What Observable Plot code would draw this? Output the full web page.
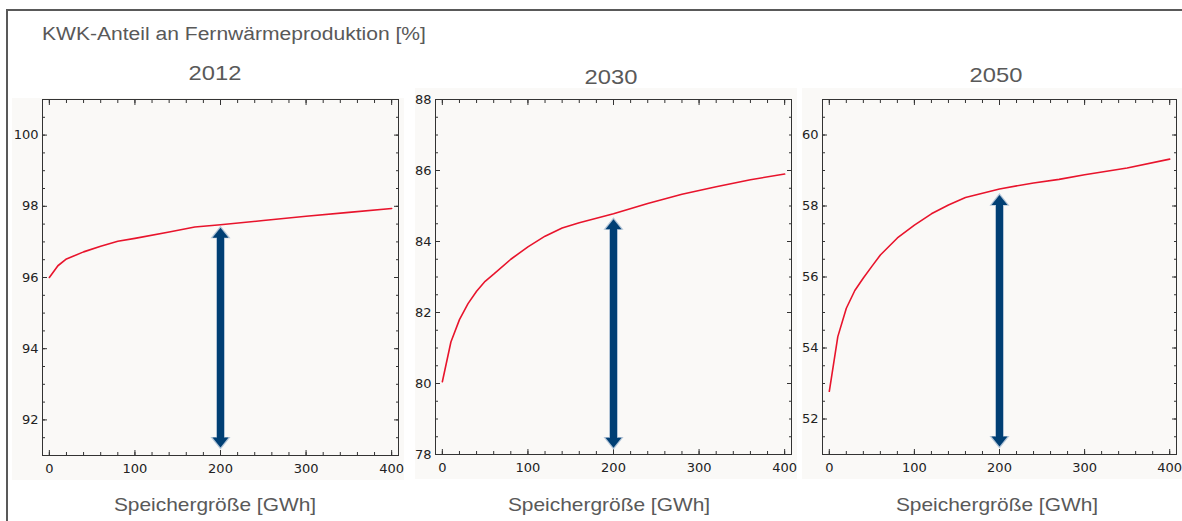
<!DOCTYPE html>
<html>
<head>
<meta charset="utf-8">
<script src="https://cdn.jsdelivr.net/npm/d3@7"></script>
<script src="https://cdn.jsdelivr.net/npm/@observablehq/plot@0.6"></script>
<style>
  html, body { margin: 0; padding: 0; background: #fff; }
  #root { position: relative; width: 1182px; height: 521px; overflow: hidden; background: #fff; }
  .frame-outer { position: absolute; left: 6px; top: 9px; right: -10px; bottom: -10px;
    border-left: 2px solid #595959; border-top: 2px solid #595959; }
  .txt { position: absolute; font-family: "Liberation Sans", Arial, sans-serif; color: #595959;
    white-space: nowrap; line-height: 1; }
  .panel { position: absolute; }
</style>
</head>
<body>
<div id="root">
  <div class="frame-outer"></div>
</div>
<script>
// ---- data ----
const chartTitle = "KWK-Anteil an Fernwärmeproduktion [%]";
const xTitle = "Speichergröße [GWh]";
const years = ["2012", "2030", "2050"];

const storage2012 = [0, 10, 20, 40, 60, 80, 100, 140, 170, 200, 250, 300, 350, 400];
const kwk2012     = [96.0, 96.33, 96.52, 96.72, 96.88, 97.02, 97.10, 97.28, 97.42, 97.48, 97.60, 97.72, 97.83, 97.94];

const storage2030 = [0, 10, 20, 30, 40, 50, 60, 80, 100, 120, 140, 160, 200, 240, 280, 320, 360, 400];
const kwk2030     = [80.05, 81.17, 81.80, 82.25, 82.60, 82.88, 83.08, 83.50, 83.85, 84.15, 84.38, 84.53, 84.78, 85.07, 85.33, 85.54, 85.74, 85.90];

const storage2050 = [0, 10, 20, 30, 40, 50, 60, 80, 100, 120, 140, 160, 200, 240, 270, 300, 350, 400];
const kwk2050     = [52.78, 54.32, 55.12, 55.62, 55.97, 56.30, 56.62, 57.10, 57.46, 57.78, 58.03, 58.24, 58.48, 58.65, 58.75, 58.88, 59.07, 59.32];

const arrowStorage = [200, 200, 200];
const arrowTop     = [97.42, 84.65, 58.33];
const arrowBottom  = [91.2, 78.17, 51.2];

const xMajorTicks = [0, 100, 200, 300, 400];
const yMajorTicks2012 = [92, 94, 96, 98, 100];
const yMajorTicks2030 = [78, 80, 82, 84, 86, 88];
const yMajorTicks2050 = [52, 54, 56, 58, 60];
const yDomains = [[91, 101], [78, 88], [51, 61]];
const xDomain = [-8, 408];

// ---- helpers ----
const navy = "#003f74";
const arrowEdge = "#b4c6d8";
const red = "#e8142c";

const arrowHead = {
  draw(context, size) {
    const r = Math.sqrt(size / Math.PI);
    context.moveTo(0, 0);
    context.lineTo(r, r * 1.25);
    context.lineTo(-r, r * 1.25);
    context.closePath();
  }
};

const blank = () => "";

function panel(i, xs, ys, yMajor, box) {
  const data = xs.map((x, k) => ({x, y: ys[k]}));
  const arrow = [{x: arrowStorage[i], top: arrowTop[i], bottom: arrowBottom[i]}];
  const [y0, y1] = yDomains[i];
  const xMinor = d3.range(0, 401, 20);
  const yMinor = d3.range(Math.ceil(y0 * 2) / 2, y1 + 0.001, 0.5);
  const plot = Plot.plot({
    width: box.w, height: box.h,
    marginLeft: box.ml, marginRight: box.mr, marginTop: box.mt, marginBottom: box.mb,
    style: {background: "#faf9f7", fontFamily: "DejaVu Sans, sans-serif", fontSize: "13px", color: "#222", overflow: "visible"},
    x: {domain: xDomain, label: null},
    y: {domain: yDomains[i], label: null},
    marks: [
      // minor ticks (inward) on all sides
      Plot.axisX(xMinor, {anchor: "bottom", tickSize: -3, tickFormat: blank, stroke: "#333"}),
      Plot.axisX(xMinor, {anchor: "top", tickSize: -3, tickFormat: blank, stroke: "#333"}),
      Plot.axisY(yMinor, {anchor: "left", tickSize: -3, tickFormat: blank, stroke: "#333"}),
      Plot.axisY(yMinor, {anchor: "right", tickSize: -3, tickFormat: blank, stroke: "#333"}),
      // major ticks (inward)
      Plot.axisX(xMajorTicks, {anchor: "bottom", tickSize: -5, tickFormat: blank, stroke: "#333"}),
      Plot.axisX(xMajorTicks, {anchor: "top", tickSize: -5, tickFormat: blank, stroke: "#333"}),
      Plot.axisY(yMajor, {anchor: "left", tickSize: -5, tickFormat: blank, stroke: "#333"}),
      Plot.axisY(yMajor, {anchor: "right", tickSize: -5, tickFormat: blank, stroke: "#333"}),
      // labels
      Plot.axisX(xMajorTicks, {anchor: "bottom", tickSize: 0, tickPadding: 8, fill: "#222"}),
      Plot.axisY(yMajor, {anchor: "left", tickSize: 0, tickPadding: 4, fill: "#222"}),
      Plot.frame({stroke: "#333"}),
      // curve
      Plot.line(data, {x: "x", y: "y", stroke: red, strokeWidth: 1.6}),
      // double arrow: light edge layer
      Plot.ruleX(arrow, {x: "x", y1: "top", y2: "bottom", insetTop: 9, insetBottom: 9, stroke: arrowEdge, strokeWidth: 9}),
      Plot.dot(arrow, {x: "x", y: "top", symbol: arrowHead, r: 8.5, fill: arrowEdge, stroke: arrowEdge, strokeWidth: 1.5}),
      Plot.dot(arrow, {x: "x", y: "bottom", symbol: arrowHead, r: 8.5, rotate: 180, fill: arrowEdge, stroke: arrowEdge, strokeWidth: 1.5}),
      // dark layer
      Plot.ruleX(arrow, {x: "x", y1: "top", y2: "bottom", insetTop: 9, insetBottom: 9, stroke: navy, strokeWidth: 7}),
      Plot.dot(arrow, {x: "x", y: "top", symbol: arrowHead, r: 8, fill: navy, stroke: "none", dy: 0.8}),
      Plot.dot(arrow, {x: "x", y: "bottom", symbol: arrowHead, r: 8, rotate: 180, fill: navy, stroke: "none", dy: -0.8})
    ]
  });
  plot.classList.add("panel");
  plot.style.left = box.left + "px";
  plot.style.top = box.top + "px";
  root.appendChild(plot);
}

function addText(str, {left, top, size, center, scale}) {
  const d = document.createElement("div");
  d.className = "txt";
  d.textContent = str;
  d.style.fontSize = size + "px";
  d.style.top = top + "px";
  if (center != null) {
    d.style.left = center + "px";
    d.style.transform = `translateX(-50%) scaleX(${scale})`;
  } else {
    d.style.left = left + "px";
    d.style.transformOrigin = "0 0";
    d.style.transform = `scaleX(${scale})`;
  }
  root.appendChild(d);
}

const root = document.getElementById("root");

const boxes = [
  {left: 12, top: 98, w: 392, h: 382, ml: 30, mr: 6, mt: 1, mb: 25},
  {left: 415, top: 88, w: 382, h: 391, ml: 20, mr: 6, mt: 11, mb: 25},
  {left: 802, top: 88, w: 380, h: 391, ml: 20, mr: 6, mt: 11, mb: 25}
];
panel(0, storage2012, kwk2012, yMajorTicks2012, boxes[0]);
panel(1, storage2030, kwk2030, yMajorTicks2030, boxes[1]);
panel(2, storage2050, kwk2050, yMajorTicks2050, boxes[2]);

addText(chartTitle, {left: 42, top: 25, size: 18, scale: 1.17});
const yearCenters = [215, 611, 996];
const yearTops = [62, 66, 63.5];
years.forEach((y, k) => addText(y, {center: yearCenters[k], top: yearTops[k], size: 21, scale: 1.13}));
const labelCenters = [215, 609, 997];
labelCenters.forEach(c => addText(xTitle, {center: c, top: 496, size: 18.5, scale: 1.13}));
</script>
</body>
</html>
